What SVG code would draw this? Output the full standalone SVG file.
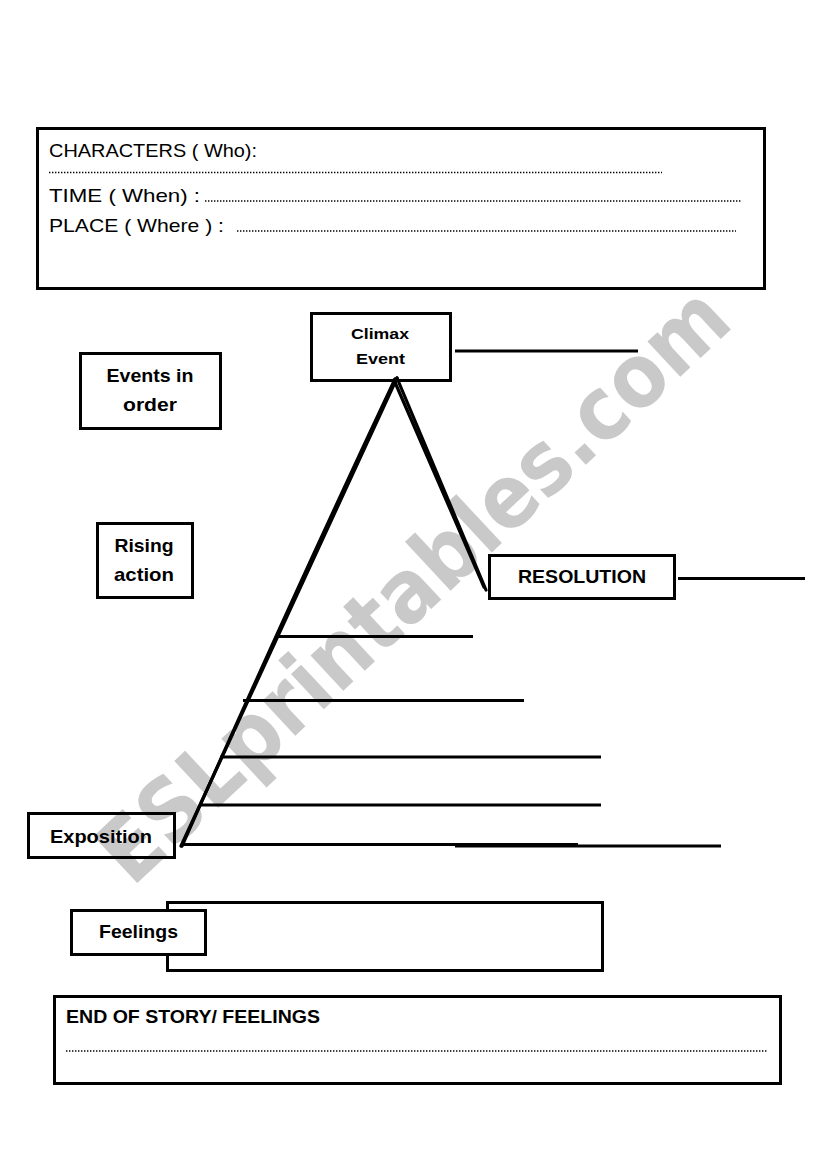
<svg xmlns="http://www.w3.org/2000/svg" width="826" height="1169" viewBox="0 0 826 1169">
<style>
  .box { fill: none; stroke: #000; stroke-width: 3; }
  .wbox { fill: #fff; stroke: #000; stroke-width: 3; }
  .t { font-family: "Liberation Sans", Arial, sans-serif; font-size: 18.5px; fill: #000; }
  .b { font-family: "Liberation Sans", Arial, sans-serif; font-size: 18.5px; font-weight: bold; fill: #000; }
  .s { font-size: 15.5px; }
  .dots { stroke: #000; stroke-width: 1.4; stroke-dasharray: 1.4 1.6; fill: none; }
  .ln { stroke: #000; stroke-width: 3; fill: none; }
  .pk { stroke: #000; stroke-width: 3.2; fill: none; stroke-linecap: round; }
  .wm { font-family: "DejaVu Sans", Verdana, sans-serif; font-weight: bold; font-size: 88px; fill: #c9c9c9; }
</style>
<rect width="826" height="1169" fill="#fff"/>

<text class="wm" transform="translate(132,888) rotate(-43)" textLength="825" lengthAdjust="spacingAndGlyphs">ESLprintables.com</text>

<g id="setting">
  <rect class="box" x="37.5" y="128.5" width="727" height="160"/>
  <text class="t" x="49" y="157" textLength="208" lengthAdjust="spacingAndGlyphs">CHARACTERS ( Who):</text>
  <line class="dots" x1="49" y1="172.5" x2="662" y2="172.5"/>
  <text class="t" x="49" y="202" textLength="151" lengthAdjust="spacingAndGlyphs">TIME  ( When) :</text>
  <line class="dots" x1="205" y1="201" x2="742" y2="201"/>
  <text class="t" x="49" y="232" textLength="175" lengthAdjust="spacingAndGlyphs">PLACE  ( Where ) :</text>
  <line class="dots" x1="237" y1="231" x2="736" y2="231"/>
</g>

<g id="climax">
  <rect class="box" x="311.5" y="313.5" width="139" height="67"/>
  <text class="b s" x="380" y="339" text-anchor="middle" textLength="58" lengthAdjust="spacingAndGlyphs">Climax</text>
  <text class="b s" x="380.5" y="364" text-anchor="middle" textLength="49" lengthAdjust="spacingAndGlyphs">Event</text>
</g>

<g id="events-in-order">
  <rect class="box" x="80.5" y="353.5" width="140" height="75"/>
  <text class="b" x="150" y="382" text-anchor="middle" textLength="87" lengthAdjust="spacingAndGlyphs">Events in</text>
  <text class="b" x="150" y="411" text-anchor="middle" textLength="54" lengthAdjust="spacingAndGlyphs">order</text>
</g>

<g id="rising-action">
  <rect class="box" x="97.5" y="523.5" width="95" height="74"/>
  <text class="b" x="144" y="552" text-anchor="middle" textLength="59" lengthAdjust="spacingAndGlyphs">Rising</text>
  <text class="b" x="144" y="581" text-anchor="middle" textLength="60" lengthAdjust="spacingAndGlyphs">action</text>
</g>

<g id="resolution">
  <rect class="box" x="489.5" y="555.5" width="185" height="43"/>
  <text class="b" x="582" y="583" text-anchor="middle" textLength="128" lengthAdjust="spacingAndGlyphs">RESOLUTION</text>
</g>

<g id="exposition">
  <rect class="box" x="28.5" y="813.5" width="146" height="44"/>
  <text class="b" x="101" y="843" text-anchor="middle" textLength="102" lengthAdjust="spacingAndGlyphs">Exposition</text>
</g>

<g id="feelings">
  <rect class="box" x="167.5" y="902.5" width="435" height="68"/>
  <rect class="wbox" x="71.5" y="910.5" width="134" height="44"/>
  <text class="b" x="138.5" y="938" text-anchor="middle" textLength="79" lengthAdjust="spacingAndGlyphs">Feelings</text>
</g>

<g id="end-of-story">
  <rect class="box" x="54.5" y="996.5" width="726" height="87"/>
  <text class="b" x="66" y="1023" textLength="254" lengthAdjust="spacingAndGlyphs">END OF STORY/ FEELINGS</text>
  <line class="dots" x1="66" y1="1051" x2="767" y2="1051"/>
</g>

<g id="connectors">
  <line class="ln" x1="455" y1="351" x2="638" y2="351"/>
  <line class="ln" x1="678" y1="578.5" x2="805" y2="578.5"/>
  <line class="pk" x1="397" y1="378" x2="181" y2="846"/>
  <path class="pk" d="M395,379 Q291,600 182,846" stroke-width="2"/>
  <line class="pk" x1="397" y1="378" x2="486" y2="590"/>
  <line class="pk" x1="394" y1="380" x2="484" y2="587" stroke-width="2"/>
  <line class="ln" x1="278" y1="636.5" x2="473" y2="636.5"/>
  <line class="ln" x1="243" y1="700.5" x2="524" y2="700.5"/>
  <line class="ln" x1="220" y1="757" x2="601" y2="757"/>
  <line class="ln" x1="200" y1="805" x2="601" y2="805"/>
  <line class="ln" x1="182" y1="844.5" x2="578" y2="844.5" stroke-width="3.5"/>
  <line class="ln" x1="455" y1="846" x2="721" y2="846" stroke-width="3.5"/>
</g>
</svg>
